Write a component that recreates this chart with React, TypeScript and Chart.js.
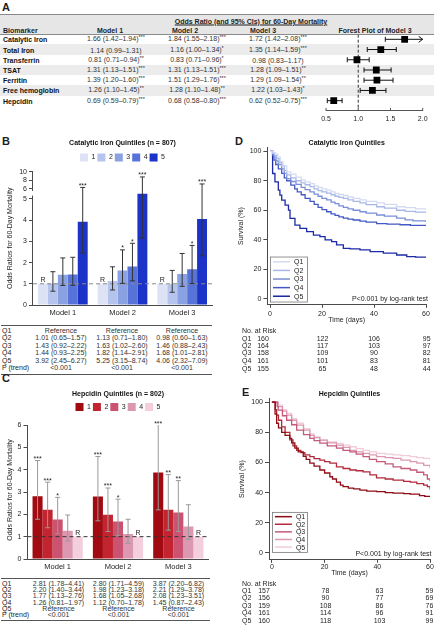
import React, { useEffect, useRef } from "react";
import { Chart, registerables } from "chart.js";

Chart.register(...registerables);

const FONT = '"Liberation Sans", Arial, Helvetica, sans-serif';
const INK = "#1e1e1e";
const AXIS = "#4a4a4a";

/* ---------------- Panel A data ---------------- */
const biomarkers = ["Catalytic Iron", "Total Iron", "Transferrin", "TSAT", "Ferritin", "Free hemoglobin", "Hepcidin"];
const m1OR = [1.66, 1.14, 0.81, 1.31, 1.39, 1.26, 0.69];
const m1Lo = [1.42, 0.99, 0.71, 1.13, 1.2, 1.1, 0.59];
const m1Hi = [1.94, 1.31, 0.94, 1.51, 1.6, 1.45, 0.79];
const m1Sig = ["***", "", "**", "***", "***", "**", "***"];
const m2OR = [1.84, 1.16, 0.83, 1.31, 1.51, 1.28, 0.68];
const m2Lo = [1.55, 1.0, 0.71, 1.13, 1.29, 1.1, 0.58];
const m2Hi = [2.18, 1.34, 0.96, 1.51, 1.76, 1.48, 0.8];
const m2Sig = ["***", "*", "*", "***", "***", "**", "***"];
const m3OR = [1.72, 1.35, 0.98, 1.28, 1.29, 1.22, 0.62];
const m3Lo = [1.42, 1.14, 0.83, 1.09, 1.09, 1.03, 0.52];
const m3Hi = [2.08, 1.59, 1.17, 1.51, 1.54, 1.43, 0.75];
const m3Sig = ["***", "***", "", "**", "**", "*", "***"];
const forestTicks = [0.5, 1.0, 1.5, 2.0];

/* ---------------- Panel B data ---------------- */
const models = ["Model 1", "Model 2", "Model 3"];
const quintiles = ["1", "2", "3", "4", "5"];
const tableRowLabels = ["Q1", "Q2", "Q3", "Q4", "Q5"];
const bRefOR = [1, 1, 1];
const bQ2OR = [1.01, 1.13, 0.98];
const bQ2Lo = [0.65, 0.71, 0.6];
const bQ2Hi = [1.57, 1.8, 1.63];
const bQ2Sig = ["", "", ""];
const bQ3OR = [1.43, 1.63, 1.46];
const bQ3Lo = [0.92, 1.02, 0.88];
const bQ3Hi = [2.22, 2.6, 2.43];
const bQ3Sig = ["", "*", ""];
const bQ4OR = [1.44, 1.82, 1.68];
const bQ4Lo = [0.93, 1.14, 1.01];
const bQ4Hi = [2.25, 2.91, 2.81];
const bQ4Sig = ["", "*", "*"];
const bQ5OR = [3.92, 5.25, 4.06];
const bQ5Lo = [2.45, 3.15, 2.32];
const bQ5Hi = [6.27, 8.74, 7.09];
const bQ5Sig = ["***", "***", "***"];
const bPTrend = ["<0.001", "<0.001", "<0.001"];
const bYTicks = [0, 1, 2, 3, 4, 5, 6, 8, 10];
const bColors = ["#dde3f5", "#b5c4ec", "#8aa1e2", "#5873d8", "#1c33c8"];

/* ---------------- Panel C data ---------------- */
const cQ1OR = [2.81, 2.8, 3.87];
const cQ1Lo = [1.78, 1.71, 2.2];
const cQ1Hi = [4.41, 4.59, 6.82];
const cQ1Sig = ["***", "***", "***"];
const cQ2OR = [2.2, 1.98, 2.21];
const cQ2Lo = [1.4, 1.23, 1.29];
const cQ2Hi = [3.44, 3.18, 3.78];
const cQ2Sig = ["***", "***", "**"];
const cQ3OR = [1.77, 1.68, 2.08];
const cQ3Lo = [1.13, 1.05, 1.23];
const cQ3Hi = [2.76, 2.68, 3.51];
const cQ3Sig = ["*", "*", "**"];
const cQ4OR = [1.26, 1.12, 1.45];
const cQ4Lo = [0.81, 0.7, 0.87];
const cQ4Hi = [1.97, 1.78, 2.43];
const cQ4Sig = ["", "", ""];
const cRefOR = [1, 1, 1];
const cPTrend = ["<0.001", "<0.001", "<0.001"];
const cYTicks = [0, 1, 2, 3, 4, 5, 6];
const cColors = ["#a00a10", "#c32430", "#cb5371", "#dd98b1", "#f3cfdd"];

/* ---------------- Panel D data (Kaplan-Meier, catalytic iron) ---------------- */
const kmLabels = ["Q1", "Q2", "Q3", "Q4", "Q5"];
const kmXTicks = [0, 20, 40, 60];
const kmYTicks = [0, 20, 40, 60, 80, 100];
const dQ1 = [[0, 100], [1.2, 99], [2, 98], [3, 96], [4, 93], [5, 90], [6.4, 86], [8, 84.5], [10, 82.5], [12, 80.5], [13.5, 79.2], [15.4, 78], [17, 76.5], [18.5, 75.5], [20, 74.5], [21.8, 73.6], [23.5, 72.5], [25, 71.5], [26.5, 70.7], [28.2, 70], [30, 69], [32, 68], [34.6, 67], [37, 66], [41, 65], [44, 64], [48.7, 62.4], [52, 61.8], [56, 61], [60, 60.5]];
const dQ2 = [[0, 100], [1, 98.5], [1.8, 97], [2.5, 95], [3.5, 92.5], [4.5, 90], [5.5, 87], [6.4, 84], [8, 82], [10, 80], [12, 78.5], [13.5, 77.3], [15.4, 76], [17, 74.5], [18.5, 73.3], [20, 72.5], [21.8, 71.6], [23.5, 70.5], [25, 69.5], [26.5, 68.7], [28.2, 68], [30, 67], [32, 66], [34.6, 65], [37, 63.8], [41, 62.4], [44, 61.5], [48.7, 60], [52, 59.3], [56, 58.8], [60, 58.5]];
const dQ3 = [[0, 100], [1, 98], [1.6, 96], [2.3, 93.5], [3.2, 91], [4.5, 88], [5.5, 85], [6.4, 81.5], [8, 79.5], [10, 77.5], [12, 75.5], [13.5, 74], [15.4, 72.5], [17, 71], [18.5, 69.5], [20, 68], [21.8, 67], [23.5, 65.5], [25, 64.5], [26.5, 63], [28.2, 62], [30, 61], [32, 60], [34.6, 59], [37, 58], [41, 56.8], [44, 56], [48.7, 54.7], [52, 53.5], [55, 52.8], [60, 52]];
const dQ4 = [[0, 100], [1, 97], [1.5, 94], [2.2, 91], [3.2, 88], [4.5, 85], [5.5, 82], [6.4, 80], [8, 77], [9.5, 74.5], [10.5, 72.5], [12, 70.5], [13.5, 68], [15.4, 66], [17, 64], [18.5, 62], [20, 60.5], [21.8, 59], [23.5, 57.5], [25, 56.5], [26.5, 55.5], [28.2, 54.7], [30, 54], [32, 53.4], [34.6, 52.7], [37, 52], [41, 51], [45, 50.6], [50, 50.2], [54, 49.8], [60, 49.5]];
const dQ5 = [[0, 100], [1.0, 84.9], [1.9, 79.3], [3.2, 73.6], [3.8, 70.3], [4.5, 66.9], [5.8, 63.5], [7.1, 60.1], [7.7, 54.5], [9.6, 50], [11.5, 47.7], [14.1, 45.5], [16.7, 43.2], [19.2, 42.1], [21.2, 39.9], [23.7, 38.7], [25.6, 36.5], [28.2, 34.2], [30.8, 33.8], [34.6, 33.1], [38.5, 32], [43.6, 30.9], [48.7, 29.7], [52.6, 28.6], [56, 28.2], [60, 28.2]];
const dColors = ["#d3dbf2", "#a8b8e6", "#7a8fd6", "#4459c4", "#1c2aa6"];
const dRiskQ1 = [160, 122, 106, 95];
const dRiskQ2 = [164, 117, 103, 97];
const dRiskQ3 = [158, 109, 90, 82];
const dRiskQ4 = [161, 101, 83, 81];
const dRiskQ5 = [155, 65, 48, 44];

/* ---------------- Panel E data (Kaplan-Meier, hepcidin) ---------------- */
const eQ1 = [[0, 100], [1, 100], [1.2, 92], [1.8, 86], [2.5, 83], [3.7, 80], [5, 78], [6.8, 76], [7.5, 73], [8.7, 69.5], [10, 67], [11.9, 64], [13, 62], [14.4, 59.6], [16, 57.5], [18.2, 55], [20, 53], [22, 50.5], [23, 49], [24.5, 47], [26, 45], [27, 44], [29, 43], [31, 42.5], [33.4, 41.7], [36, 41], [39.7, 40.6], [43, 40], [46, 39.7], [50, 39.3], [52.5, 39], [56, 38], [58, 37.5], [60, 37]];
const eQ2 = [[0, 100], [1, 100], [1.3, 95], [1.8, 91.4], [2.5, 88], [3.7, 83.6], [5, 80], [6.8, 75], [8, 71], [9.4, 68], [11, 66.5], [12.5, 65], [14.4, 63.8], [16, 62.5], [18.2, 61.6], [20, 60.5], [22, 59.6], [24.5, 57], [27, 56], [29.6, 55], [32, 54.5], [34.6, 53.8], [37.2, 51.7], [39.7, 49.7], [43, 49], [46, 48.3], [50, 47.5], [52.5, 47], [55, 46], [57.6, 45], [59, 44], [60, 42]];
const eQ3 = [[0, 100], [1.5, 100], [2, 97], [2.4, 94.7], [4, 91], [5.6, 88], [7.5, 85], [9.4, 81.5], [12, 78.5], [14.4, 76], [16, 74.5], [18.2, 72.8], [21, 71], [24.5, 69.5], [27, 68], [29.6, 67], [32, 65.5], [34.6, 63.8], [37, 62], [39.7, 60.5], [43, 59], [46, 57], [49, 56], [52.5, 55], [55, 53.5], [57.6, 51.7], [59, 49], [60, 47.5]];
const eQ4 = [[0, 100], [1.5, 100], [2.4, 97], [4, 94], [5.6, 91.4], [7.5, 88], [9.4, 84.8], [12, 81.5], [14.4, 78], [16, 76.5], [18.2, 74.8], [21, 73], [24.5, 71.5], [27, 70], [29.6, 68], [32, 67], [34.6, 66], [37, 65], [39.7, 63.8], [43, 63.2], [46, 62.7], [49, 61.5], [52.5, 60.5], [55, 59.5], [57.6, 58], [60, 56.5]];
const eQ5 = [[0, 100], [1.5, 100], [2.4, 98], [4, 95], [5.6, 92.5], [7.5, 89], [9.4, 86], [12, 82.5], [14.4, 79], [16, 77], [18.2, 74.8], [21, 73.6], [24.5, 72.6], [27, 71.5], [29.6, 70.4], [32, 69.2], [34.6, 68], [37, 67], [39.7, 66], [43, 65.5], [46, 65], [49, 64.5], [52.5, 63.8], [55, 63.2], [57.6, 62.7], [60, 61.6]];
const eColors = ["#8e0c14", "#b02a3c", "#c45a78", "#dc98b2", "#f1ccd9"];
const eRiskQ1 = [157, 78, 63, 59];
const eRiskQ2 = [156, 90, 77, 69];
const eRiskQ3 = [159, 108, 86, 76];
const eRiskQ4 = [161, 114, 96, 91];
const eRiskQ5 = [160, 118, 103, 99];

/* ---------------- helpers ---------------- */
const fmtCI = (o: number, l: number, h: number) => `${o.toFixed(2)} (${l.toFixed(2)}–${h.toFixed(2)})`;
const font = (size: number, weight: any = "normal") => ({ family: FONT, size, weight });

// broken y-axis for panel B
const tfB = (v: number) => (v <= 5.4 ? v : 5.49 + (v - 6) * 0.2);

function T({ x, y, children, a = "left", s = 7, b = false, c = INK, style = {} }: any) {
  const tx = a === "center" ? "translate(-50%,-50%)" : a === "right" ? "translate(-100%,-50%)" : "translate(0,-50%)";
  return (
    <div
      style={{
        position: "absolute",
        left: x,
        top: y,
        transform: tx,
        fontSize: s,
        fontWeight: b ? "bold" : "normal",
        color: c,
        whiteSpace: "nowrap",
        lineHeight: 1,
        fontFamily: FONT,
        ...style,
      }}
    >
      {children}
    </div>
  );
}

function HLine({ x, y, w, c = "#555" }: any) {
  return <div style={{ position: "absolute", left: x, top: y, width: w, height: 0, borderTop: `1px solid ${c}` }} />;
}

function CanvasChart({ left, top, width, height, make }: any) {
  const ref = useRef<HTMLCanvasElement>(null);
  useEffect(() => {
    const chart = new Chart(ref.current as HTMLCanvasElement, make());
    return () => chart.destroy();
  }, []);
  return <canvas ref={ref} width={width} height={height} style={{ position: "absolute", left, top, width, height }} />;
}

/* ---------------- plugins ---------------- */
const barExtras = {
  id: "barExtras",
  afterDatasetsDraw(chart: any, _a: any, o: any) {
    const { ctx, chartArea } = chart;
    const ys = chart.scales.y;
    const tf = o.tf || ((v: number) => v);
    ctx.save();
    const y1 = ys.getPixelForValue(tf(1));
    ctx.strokeStyle = o.refColor;
    ctx.lineWidth = 1;
    ctx.setLineDash(o.dash);
    ctx.beginPath();
    ctx.moveTo(chartArea.left, y1);
    ctx.lineTo(chartArea.right, y1);
    ctx.stroke();
    ctx.setLineDash([]);
    ctx.textAlign = "center";
    ctx.textBaseline = "alphabetic";
    chart.data.datasets.forEach((ds: any, di: number) => {
      const meta = chart.getDatasetMeta(di);
      meta.data.forEach((bar: any, i: number) => {
        const x = bar.x;
        if (ds.isRef) {
          ctx.fillStyle = INK;
          ctx.font = `7px ${FONT}`;
          ctx.fillText("R", x, bar.y - 1.5);
          return;
        }
        const hiV = Math.min(ds.hi[i], o.clipMax);
        const clipped = ds.hi[i] > o.clipMax;
        const top = ys.getPixelForValue(tf(hiV));
        const bot = ys.getPixelForValue(tf(ds.lo[i]));
        ctx.strokeStyle = o.barColor;
        ctx.lineWidth = 1;
        ctx.beginPath();
        ctx.moveTo(x, top);
        ctx.lineTo(x, bot);
        if (!clipped) {
          ctx.moveTo(x - 2.5, top);
          ctx.lineTo(x + 2.5, top);
        }
        ctx.moveTo(x - 2.5, bot);
        ctx.lineTo(x + 2.5, bot);
        ctx.stroke();
        if (ds.sig[i]) {
          ctx.fillStyle = INK;
          ctx.font = `7px ${FONT}`;
          ctx.fillText(ds.sig[i], x, top + 0.5);
        }
      });
    });
    ctx.restore();
  },
};

const axisLine = {
  id: "axisLine",
  afterDraw(chart: any, _a: any, o: any) {
    const { ctx, chartArea } = chart;
    const ys = chart.scales.y;
    ctx.save();
    ctx.strokeStyle = AXIS;
    ctx.lineWidth = 1;
    const x = Math.round(chartArea.left) - 0.5;
    (o.segments || []).forEach((s: number[]) => {
      ctx.beginPath();
      ctx.moveTo(x, ys.getPixelForValue(s[0]) + 0.5);
      ctx.lineTo(x, ys.getPixelForValue(s[1]));
      ctx.stroke();
    });
    ctx.restore();
  },
};

const forestBars = {
  id: "forestBars",
  beforeDatasetsDraw(chart: any) {
    const { ctx, chartArea } = chart;
    const xs = chart.scales.x;
    const ys = chart.scales.y;
    ctx.save();
    const x1 = xs.getPixelForValue(1);
    ctx.strokeStyle = "#333";
    ctx.lineWidth = 1;
    ctx.setLineDash([3, 2]);
    ctx.beginPath();
    ctx.moveTo(x1, chartArea.top);
    ctx.lineTo(x1, chartArea.bottom);
    ctx.stroke();
    ctx.setLineDash([]);
    ctx.strokeStyle = "#555";
    xs.ticks.forEach((t: any) => {
      const px = xs.getPixelForValue(t.value);
      ctx.beginPath();
      ctx.moveTo(px, chartArea.bottom - 3);
      ctx.lineTo(px, chartArea.bottom);
      ctx.stroke();
    });
    ctx.strokeStyle = "#111";
    m3Lo.forEach((lo, i) => {
      const hi = m3Hi[i];
      const y = ys.getPixelForValue(i);
      const xl = xs.getPixelForValue(lo);
      const over = hi > xs.max;
      const xr = xs.getPixelForValue(over ? xs.max : hi);
      ctx.beginPath();
      ctx.moveTo(xl, y);
      ctx.lineTo(xr, y);
      ctx.moveTo(xl, y - 2.5);
      ctx.lineTo(xl, y + 2.5);
      if (over) {
        ctx.moveTo(xr - 4, y - 3);
        ctx.lineTo(xr, y);
        ctx.lineTo(xr - 4, y + 3);
      } else {
        ctx.moveTo(xr, y - 2.5);
        ctx.lineTo(xr, y + 2.5);
      }
      ctx.stroke();
    });
    ctx.restore();
  },
};

const kmLegend = {
  id: "kmLegend",
  afterDatasetsDraw(chart: any, _a: any, o: any) {
    const { ctx } = chart;
    const xs = chart.scales.x;
    const ys = chart.scales.y;
    const left = xs.getPixelForValue(0) + o.dx;
    const bottom = ys.getPixelForValue(0) + o.dy;
    const n = chart.data.datasets.length;
    const h = n * o.rowH + 2;
    const top = bottom - h;
    ctx.save();
    ctx.fillStyle = "#fff";
    ctx.fillRect(left, top, o.w, h);
    ctx.strokeStyle = "#777";
    ctx.lineWidth = 0.8;
    ctx.strokeRect(left + 0.5, top + 0.5, o.w, h);
    ctx.font = `7px ${FONT}`;
    ctx.textBaseline = "middle";
    ctx.textAlign = "left";
    chart.data.datasets.forEach((ds: any, i: number) => {
      const yy = top + 1 + o.rowH * (i + 0.5);
      ctx.strokeStyle = ds.borderColor;
      ctx.lineWidth = 1.5;
      ctx.beginPath();
      ctx.moveTo(left + 3, yy);
      ctx.lineTo(left + 20, yy);
      ctx.stroke();
      ctx.fillStyle = INK;
      ctx.fillText(ds.label, left + 24, yy + 0.5);
    });
    ctx.restore();
  },
};

/* ---------------- chart configs ---------------- */
function forestConfig(): any {
  return {
    type: "scatter",
    data: {
      datasets: [
        {
          data: m3OR.map((v, i) => ({ x: v, y: i })),
          pointStyle: "rect",
          pointRadius: 4.8,
          backgroundColor: "#000",
          borderWidth: 0,
        },
      ],
    },
    options: {
      animation: false,
      responsive: false,
      events: [],
      layout: { padding: { left: 26, right: 11.3, top: 14.7, bottom: 0 } },
      plugins: { legend: { display: false }, tooltip: { enabled: false } },
      scales: {
        x: {
          type: "linear",
          min: 0.5,
          max: 2.0,
          afterBuildTicks: (s: any) => {
            s.ticks = forestTicks.map((v) => ({ value: v }));
          },
          afterFit: (s: any) => {
            s.height = 14.1;
          },
          grid: { display: false, drawTicks: false },
          border: { display: true, color: "#555" },
          ticks: { font: font(7), color: INK, padding: 4, callback: (v: any) => Number(v).toFixed(1) },
        },
        y: { type: "linear", min: -0.45, max: 7.0, reverse: true, display: false },
      },
    },
    plugins: [forestBars],
  };
}

function barConfig(p: any): any {
  return {
    type: "bar",
    data: {
      labels: models,
      datasets: quintiles.map((q, k) => ({
        label: q,
        data: p.or[k].map(p.tf),
        backgroundColor: p.colors[k],
        borderWidth: 0,
        lo: p.lo[k],
        hi: p.hi[k],
        sig: p.sig[k],
        isRef: p.or[k] === p.ref,
      })),
    },
    options: {
      animation: false,
      responsive: false,
      events: [],
      layout: { padding: { left: 0, right: p.padR, top: 0, bottom: 0 } },
      datasets: { bar: { categoryPercentage: 0.833, barPercentage: 1 } },
      plugins: {
        title: {
          display: true,
          text: p.title,
          fullSize: false,
          font: font(7, "bold"),
          color: "#111",
          padding: { top: p.titlePadTop, bottom: p.titlePadBottom },
        },
        legend: {
          display: true,
          fullSize: false,
          labels: { boxWidth: 8, boxHeight: 8, padding: 2, font: font(7), color: INK },
        },
        tooltip: { enabled: false },
        barExtras: { tf: p.tf, refColor: p.refColor, dash: [4, 3], barColor: p.errColor, clipMax: p.clipMax },
        axisLine: { segments: p.segments },
      },
      scales: {
        x: {
          grid: { display: false, drawTicks: false },
          border: { display: true, color: AXIS },
          ticks: { font: font(7.5), color: INK, padding: 3 },
          afterFit: (s: any) => {
            s.height = 12;
          },
        },
        y: {
          type: "linear",
          min: 0,
          max: p.yMax,
          border: { display: false },
          grid: { drawOnChartArea: false, tickLength: 4, color: AXIS },
          afterBuildTicks: (s: any) => {
            s.ticks = p.yTicks.map((v: number) => ({ value: p.tf(v) }));
          },
          ticks: {
            autoSkip: false,
            font: font(7),
            color: INK,
            padding: 2,
            callback: (_v: any, i: number) => String(p.yTicks[i]),
          },
          title: {
            display: true,
            text: "Odds Ratios for 60-Day Mortality",
            font: font(7),
            color: INK,
            padding: { top: 5.8, bottom: 0 },
          },
          afterFit: (s: any) => {
            s.width = p.yW;
          },
        },
      },
    },
    plugins: [barExtras, axisLine],
  };
}

function kmConfig(p: any): any {
  return {
    type: "line",
    data: {
      datasets: p.series.map((s: number[][], i: number) => ({
        label: kmLabels[i],
        data: s.map(([x, y]) => ({ x, y })),
        borderColor: p.colors[i],
        borderWidth: 1.3,
        pointRadius: 0,
        stepped: true,
        fill: false,
      })),
    },
    options: {
      animation: false,
      responsive: false,
      events: [],
      layout: { padding: { left: 0, right: p.padR, top: 0, bottom: 0 } },
      plugins: {
        legend: { display: false },
        tooltip: { enabled: false },
        title: {
          display: true,
          text: p.title,
          fullSize: false,
          font: font(7, "bold"),
          color: "#111",
          padding: { top: 0, bottom: 0 },
        },
        kmLegend: p.legend,
      },
      scales: {
        x: {
          type: "linear",
          min: p.xMin,
          max: 60,
          afterBuildTicks: (s: any) => {
            s.ticks = kmXTicks.map((v) => ({ value: v }));
          },
          grid: { drawOnChartArea: false, tickLength: 3, color: AXIS },
          border: { color: AXIS },
          ticks: { font: font(7), color: INK, padding: p.xPad, autoSkip: false },
          title: { display: true, text: "Time (days)", font: font(7), color: INK, padding: 0 },
          afterFit: (s: any) => {
            s.height = p.xH;
          },
        },
        y: {
          type: "linear",
          min: p.yMin,
          max: p.yMax,
          afterBuildTicks: (s: any) => {
            s.ticks = kmYTicks.map((v) => ({ value: v }));
          },
          grid: { drawOnChartArea: false, tickLength: 4, color: AXIS },
          border: { color: AXIS },
          ticks: { font: font(7), color: INK, padding: 2, autoSkip: false },
          title: { display: true, text: "Survival (%)", font: font(7), color: INK, padding: { top: p.yTitlePad, bottom: 0 } },
          afterFit: (s: any) => {
            s.width = p.yW;
          },
        },
      },
    },
    plugins: [kmLegend],
  };
}

/* ---------------- panels ---------------- */
const A_ROW0 = 39.3;
const A_ROWH = 10.23;
const aModelCenters = [116, 197, 278];
const aHeaderCenters = [110, 185, 263];

function Sup({ s }: any) {
  return s ? <span style={{ fontSize: 5.5, position: "relative", top: -2 }}>{s}</span> : null;
}

function PanelA() {
  const ors = [m1OR, m2OR, m3OR];
  const los = [m1Lo, m2Lo, m3Lo];
  const his = [m1Hi, m2Hi, m3Hi];
  const sigs = [m1Sig, m2Sig, m3Sig];
  return (
    <>
      <T x={2} y={7} s={11} b>
        A
      </T>
      <div
        style={{
          position: "absolute",
          left: 0,
          top: 14,
          width: 434,
          height: 21,
          background: "#e6e6e6",
          borderTop: "1px solid #8a8a8a",
          borderBottom: "1px solid #8a8a8a",
          boxSizing: "border-box",
        }}
      />
      {biomarkers.map((_, i) =>
        i % 2 === 1 ? (
          <div
            key={"sh" + i}
            style={{ position: "absolute", left: 0, top: A_ROW0 + i * A_ROWH - A_ROWH / 2, width: 434, height: A_ROWH, background: "#ececec" }}
          />
        ) : null
      )}
      <T x={251} y={20.5} a="center" b style={{ textDecoration: "underline" }}>
        Odds Ratio (and 95% CIs) for 60-Day Mortality
      </T>
      <T x={3} y={30} b>
        Biomarker
      </T>
      {models.map((m, k) => (
        <T key={m} x={aHeaderCenters[k]} y={30} a="center" b>
          {m}
        </T>
      ))}
      <T x={375} y={30} a="center" b>
        Forest Plot of Model 3
      </T>
      {biomarkers.map((bm, i) => (
        <React.Fragment key={bm}>
          <T x={3} y={A_ROW0 + i * A_ROWH} b c="#111">
            {bm}
          </T>
          {models.map((m, k) => (
            <T key={m} x={aModelCenters[k]} y={A_ROW0 + i * A_ROWH} a="center" c="#333">
              {fmtCI(ors[k][i], los[k][i], his[k][i])}
              <Sup s={sigs[k][i]} />
            </T>
          ))}
        </React.Fragment>
      ))}
      <CanvasChart left={300} top={20} width={134} height={105} make={forestConfig} />
    </>
  );
}

function OrTable({ top, rowYs, centers, lineW, bottomLine, rows, pTrend }: any) {
  return (
    <>
      <HLine x={1} y={top} w={lineW} />
      {rows.map((r: any, i: number) => (
        <React.Fragment key={i}>
          <T x={2} y={rowYs[i]}>
            {r.label}
          </T>
          {r.cells.map((c: string, k: number) => (
            <T key={k} x={centers[k]} y={rowYs[i]} a="center" c="#333">
              {c}
            </T>
          ))}
        </React.Fragment>
      ))}
      <T x={2} y={rowYs[5]}>
        P (trend)
      </T>
      {pTrend.map((c: string, k: number) => (
        <T key={"p" + k} x={centers[k]} y={rowYs[5]} a="center" c="#333">
          {c}
        </T>
      ))}
      <HLine x={1} y={bottomLine} w={lineW} />
    </>
  );
}

function PanelB() {
  const or = [bRefOR, bQ2OR, bQ3OR, bQ4OR, bQ5OR];
  const lo = [null, bQ2Lo, bQ3Lo, bQ4Lo, bQ5Lo];
  const hi = [null, bQ2Hi, bQ3Hi, bQ4Hi, bQ5Hi];
  const sig = [null, bQ2Sig, bQ3Sig, bQ4Sig, bQ5Sig];
  const make = () =>
    barConfig({
      or,
      lo,
      hi,
      sig,
      ref: bRefOR,
      colors: bColors,
      tf: tfB,
      title: "Catalytic Iron Quintiles (n = 807)",
      titlePadTop: 1.8,
      titlePadBottom: 4.2,
      padR: 8,
      yMax: 6.3,
      yW: 33,
      yTicks: bYTicks,
      refColor: "#8a8a8a",
      errColor: "#333",
      clipMax: 10,
      segments: [
        [0, 5.16],
        [5.4, tfB(10)],
      ],
    });
  const rows = tableRowLabels.map((lab, i) => ({
    label: lab,
    cells: models.map((_, k) => (i === 0 ? "Reference" : fmtCI(or[i][k], (lo[i] as any)[k], (hi[i] as any)[k]))),
  }));
  return (
    <>
      <T x={2} y={141} s={11} b>
        B
      </T>
      <CanvasChart left={0} top={137} width={220} height={180} make={make} />
      <OrTable top={324.5} rowYs={[330, 337.4, 344.8, 352.2, 359.6, 367]} centers={[61, 122, 182]} lineW={211} bottomLine={373.5} rows={rows} pTrend={bPTrend} />
    </>
  );
}

function PanelC() {
  const or = [cQ1OR, cQ2OR, cQ3OR, cQ4OR, cRefOR];
  const lo = [cQ1Lo, cQ2Lo, cQ3Lo, cQ4Lo, null];
  const hi = [cQ1Hi, cQ2Hi, cQ3Hi, cQ4Hi, null];
  const sig = [cQ1Sig, cQ2Sig, cQ3Sig, cQ4Sig, null];
  const make = () =>
    barConfig({
      or,
      lo,
      hi,
      sig,
      ref: cRefOR,
      colors: cColors,
      tf: (v: number) => v,
      title: "Hepcidin Quintiles (n = 802)",
      titlePadTop: 2.3,
      titlePadBottom: 2.3,
      padR: 11.5,
      yMax: 6.18,
      yW: 27.5,
      yTicks: cYTicks,
      refColor: "#333",
      errColor: "#999",
      clipMax: 6,
      segments: [[0, 6]],
    });
  const rows = tableRowLabels.map((lab, i) => ({
    label: lab,
    cells: models.map((_, k) => (i === 4 ? "Reference" : fmtCI(or[i][k], (lo[i] as any)[k], (hi[i] as any)[k]))),
  }));
  return (
    <>
      <T x={2} y={378} s={11} b>
        C
      </T>
      <CanvasChart left={0} top={388} width={220} height={183} make={make} />
      <OrTable top={577.5} rowYs={[583, 589.2, 595.4, 601.6, 607.8, 614]} centers={[58.5, 118.5, 178.5]} lineW={209} bottomLine={619.5} rows={rows} pTrend={cPTrend} />
    </>
  );
}

function RiskTable({ labelY, rowYs, cols, risks }: any) {
  return (
    <>
      <T x={242} y={labelY}>
        No. at Risk
      </T>
      {risks.map((r: number[], i: number) => (
        <React.Fragment key={i}>
          <T x={242} y={rowYs[i]}>
            {kmLabels[i]}
          </T>
          {r.map((v, k) => (
            <T key={k} x={cols[k]} y={rowYs[i]} a="center">
              {v}
            </T>
          ))}
        </React.Fragment>
      ))}
    </>
  );
}

function PanelD() {
  const make = () =>
    kmConfig({
      series: [dQ1, dQ2, dQ3, dQ4, dQ5],
      colors: dColors,
      title: "Catalytic Iron Quintiles",
      padR: 8,
      xMin: -1,
      yMin: -4.05,
      yMax: 102.6,
      xH: 19.2,
      xPad: 1.8,
      yW: 35.4,
      yTitlePad: 5,
      legend: { dx: 0, dy: 2.7, rowH: 8.6, w: 37 },
    });
  return (
    <>
      <T x={235} y={141} s={11} b>
        D
      </T>
      <CanvasChart left={232} top={138.8} width={202} height={185.4} make={make} />
      <T x={428} y={298.3} a="right">
        P&lt;0.001 by log-rank test
      </T>
      <RiskTable labelY={330} rowYs={[337.7, 345, 352.4, 360, 367.6]} cols={[263, 322.5, 374, 426.7]} risks={[dRiskQ1, dRiskQ2, dRiskQ3, dRiskQ4, dRiskQ5]} />
    </>
  );
}

function PanelE() {
  const make = () =>
    kmConfig({
      series: [eQ1, eQ2, eQ3, eQ4, eQ5],
      colors: eColors,
      title: "Hepcidin Quintiles",
      padR: 4,
      xMin: -1.1,
      yMin: -4.6,
      yMax: 102.5,
      xH: 17.2,
      xPad: 0,
      yW: 37,
      yTitlePad: 5.5,
      legend: { dx: 0, dy: -1, rowH: 7.6, w: 35 },
    });
  return (
    <>
      <T x={242} y={391.5} s={11} b>
        E
      </T>
      <CanvasChart left={232} top={389.8} width={202} height={187.4} make={make} />
      <T x={431.5} y={553.3} a="right">
        P&lt;0.001 by log-rank test
      </T>
      <RiskTable labelY={582.7} rowYs={[590, 597.4, 604.8, 612.2, 619.6]} cols={[264, 325.5, 379.5, 429.5]} risks={[eRiskQ1, eRiskQ2, eRiskQ3, eRiskQ4, eRiskQ5]} />
    </>
  );
}

export default function App() {
  return (
    <div
      style={{
        position: "absolute",
        left: 0,
        top: 0,
        width: 434,
        height: 627,
        background: "#fff",
        overflow: "hidden",
        fontFamily: FONT,
        color: INK,
      }}
    >
      <PanelA />
      <PanelB />
      <PanelC />
      <PanelD />
      <PanelE />
    </div>
  );
}
